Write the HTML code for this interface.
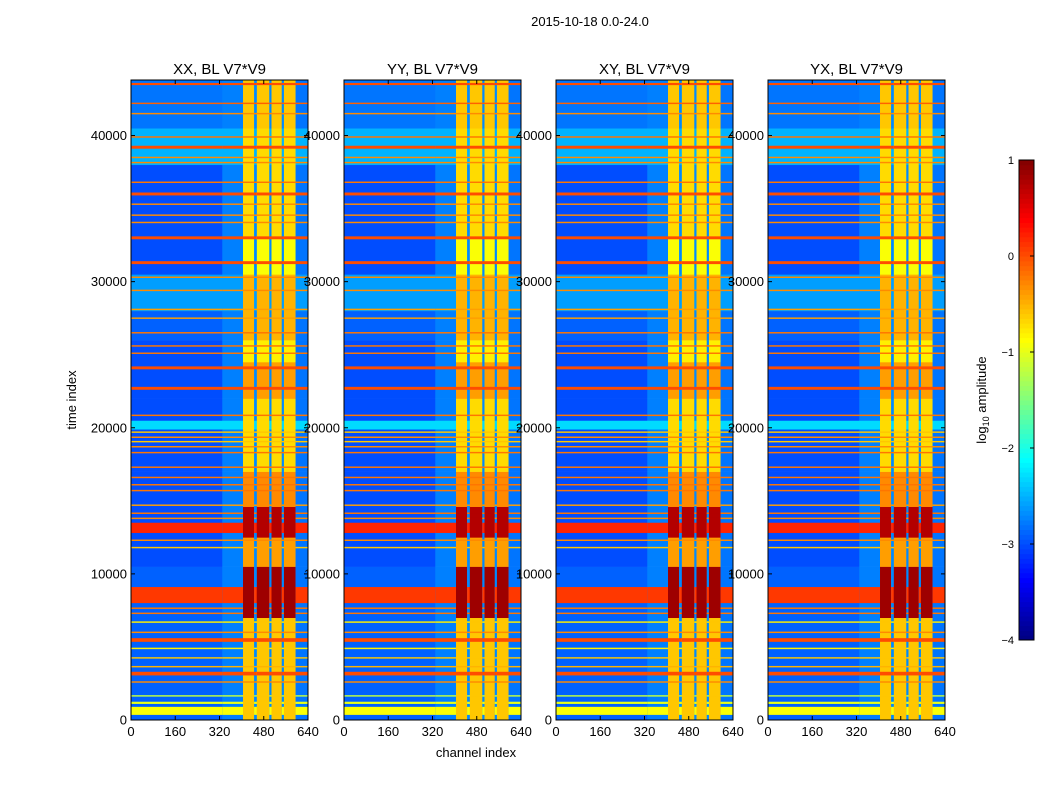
<!DOCTYPE html>
<html><head><meta charset="utf-8"><style>
body{margin:0;background:#fff;font-family:"Liberation Sans",sans-serif}
svg text{font-family:"Liberation Sans",sans-serif}
</style></head><body>
<svg id="chart" width="1050" height="800" xmlns="http://www.w3.org/2000/svg">
<rect width="1050" height="800" fill="#fff"/>
<text x="590" y="26" font-size="13" text-anchor="middle">2015-10-18 0.0-24.0</text>
<text x="76" y="400" font-size="13" text-anchor="middle" transform="rotate(-90 76 400)">time index</text>
<text x="476" y="757" font-size="13" text-anchor="middle">channel index</text>
<text x="986" y="400" font-size="13" text-anchor="middle" transform="rotate(-90 986 400)">log<tspan font-size="9" dy="3">10</tspan><tspan dy="-3"> amplitude</tspan></text>
<g id="panels"></g>
<g id="cbar"></g>
</svg>
<script>
const panelTitles=["XX, BL V7*V9","YY, BL V7*V9","XY, BL V7*V9","YX, BL V7*V9"];
const panelLefts=[131,344,556,768];
const xTicks=[0,160,320,480,640];
const yTicks=[0,10000,20000,30000,40000];
const cbTicks=[1,0,-1,-2,-3,-4];
// channel bands
const colStart=[0,330,405,445,455,500,508,545,553,595];
const colBase=[-3.0,-2.75,0,-2.7,0,-2.7,0,-2.7,0,-2.8];
const colBright=[0,0,1,0,1,0,1,0,1,0];
// base time segments
const baseStart=[0,7000,10500,12500,14600,17000,19900,20500,22000,24500,26000,28000,30500,33000,38000,40500];
const baseLvl=[-2.9,-2.9,-3.0,-3.0,-3.0,-3.0,-2.3,-3.0,-3.0,-3.0,-2.9,-2.6,-3.0,-3.0,-2.5,-2.8];
const baseInb=[-0.6,0.85,-0.4,0.75,-0.3,-0.7,-0.7,-0.7,-0.4,-0.8,-0.5,-0.5,-0.9,-0.7,-0.7,-0.6];
// horizontal RFI lines
const lineStart=[350,1100,1600,2550,3050,3600,4200,4850,5350,5950,6650,7250,7600,8000,11750,12250,12800,13750,14100,14650,15650,16050,16550,17250,18250,18650,19000,19300,19650,20800,22600,24000,25050,25550,26450,27450,28050,29350,30250,31200,32900,34000,34500,35250,35900,36750,38100,38450,39100,39850,41450,42150,43450];
const lineEnd=[900,1250,1700,2650,3300,3700,4300,4950,5600,6050,6750,7350,7700,9100,11850,12350,13500,13850,14200,14750,15750,16150,16650,17350,18350,18750,19100,19400,19750,20900,22800,24200,25150,25650,26550,27550,28150,29450,30350,31400,33100,34100,34600,35350,36100,36850,38200,38550,39300,39950,41550,42250,43600];
const lineLvl=[-0.9,-1.0,-1.2,-0.3,0,-0.5,-0.6,-0.8,0,-0.3,-0.8,-0.2,-0.2,0.1,-0.6,-0.3,0.2,-0.3,-0.2,-0.4,-0.2,-0.2,-0.2,-0.2,-0.2,-0.3,-0.6,-0.3,-0.6,-0.2,0,0,-0.2,-0.2,-0.2,-0.4,-0.4,-0.3,-0.3,0,0,-0.3,-0.3,-0.3,0,-0.2,-0.3,-0.3,0,-0.2,-0.3,-0.1,0];
const TMAX=43800, CMAX=640, VMIN=-4, VMAX=1;
const PW=177, PTOP=80, PBOT=720;
const NS="http://www.w3.org/2000/svg";
function jet(v){let t=Math.max(0,Math.min(1,(v-VMIN)/(VMAX-VMIN)));
 const c=x=>Math.round(255*Math.max(0,Math.min(1,1.5-Math.abs(x))));
 return `rgb(${c(4*t-3)},${c(4*t-2)},${c(4*t-1)})`;}
const yS=t=>PBOT-(t/TMAX)*(PBOT-PTOP);
function mk(tag,attrs,parent){const e=document.createElementNS(NS,tag);for(const k in attrs)e.setAttribute(k,attrs[k]);parent.appendChild(e);return e;}
const panels=document.getElementById('panels');
panelLefts.forEach((L,p)=>{
 const xS=c=>L+(c/CMAX)*PW;
 const g=mk('g',{},panels);
 
 
 for(let ci=0;ci<colStart.length;ci++){
  const c0=colStart[ci],c1=ci+1<colStart.length?colStart[ci+1]:CMAX;
  const x0=xS(c0),x1=xS(c1);
  for(let bi=0;bi<baseStart.length;bi++){
   const t0=baseStart[bi],t1=bi+1<baseStart.length?baseStart[bi+1]:TMAX;
   const v=colBright[ci]?baseInb[bi]:Math.max(colBase[ci],baseLvl[bi]);
   const r=mk('rect',{x:x0,y:yS(t1),width:x1-x0+0.3,height:yS(t0)-yS(t1)+0.3,fill:jet(v)},g);
   
   
  }
  for(let li=0;li<lineStart.length;li++){
   const t0=lineStart[li],t1=lineEnd[li];
   let bi=0;while(bi+1<baseStart.length&&baseStart[bi+1]<=t0)bi++;
   const v=colBright[ci]?Math.max(baseInb[bi],lineLvl[li]):Math.max(colBase[ci],lineLvl[li]);
   const r=mk('rect',{x:x0,y:yS(t1),width:x1-x0+0.3,height:Math.max(1.3,yS(t0)-yS(t1)),fill:jet(v)},g);
   
   
  }
 }
 const fr=mk('rect',{x:L,y:PTOP,width:PW,height:PBOT-PTOP,fill:'none',stroke:'#000','stroke-width':1},g);
 
 
 const tt=mk('text',{x:L+PW/2,y:74,'font-size':15,'text-anchor':'middle'},g);tt.textContent=panelTitles[p];
 
 
 xTicks.forEach(v=>{const x=xS(v);
  mk('line',{x1:x,x2:x,y1:PBOT,y2:PBOT-4,stroke:'#000'},g);
  mk('line',{x1:x,x2:x,y1:PTOP,y2:PTOP+4,stroke:'#000'},g);
  const t=mk('text',{x:x,y:736,'font-size':13,'text-anchor':'middle'},g);t.textContent=v;
  
  });
 yTicks.forEach(v=>{const y=yS(v);
  mk('line',{x1:L,x2:L+4,y1:y,y2:y,stroke:'#000'},g);
  mk('line',{x1:L+PW,x2:L+PW-4,y1:y,y2:y,stroke:'#000'},g);
  const t=mk('text',{x:L-4,y:y+4.5,'font-size':13,'text-anchor':'end'},g);t.textContent=v;
  
  });
});
// colorbar
const cb=document.getElementById('cbar');
const CBX=1019,CBW=15,CBT=160,CBB=640;
const cbY=v=>CBB-(v-VMIN)/(VMAX-VMIN)*(CBB-CBT);
for(let i=0;i<100;i++){const v0=VMIN+i*(VMAX-VMIN)/100,v1=VMIN+(i+1)*(VMAX-VMIN)/100;
 const r=mk('rect',{x:CBX,y:cbY(v1),width:CBW,height:cbY(v0)-cbY(v1)+0.5,fill:jet((v0+v1)/2)},cb);
 
 }
const cbf=mk('rect',{x:CBX,y:CBT,width:CBW,height:CBB-CBT,fill:'none',stroke:'#000'},cb);


cbTicks.forEach(v=>{const y=cbY(v);
 mk('line',{x1:CBX+CBW-4,x2:CBX+CBW,y1:y,y2:y,stroke:'#000'},cb);
 const t=mk('text',{x:1014,y:y+4,'font-size':11,'text-anchor':'end'},cb);t.textContent=(v<0?'\u2212':'')+Math.abs(v);
 
 });
</script>
</body></html>
